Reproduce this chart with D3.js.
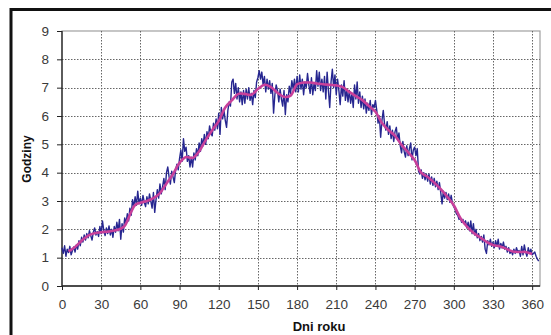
<!DOCTYPE html>
<html>
<head>
<meta charset="utf-8">
<script src="https://cdn.jsdelivr.net/npm/d3@7"></script>
<style>
  html, body { margin: 0; padding: 0; background: #fff; }
  svg { display: block; font-family: "Liberation Sans", Arial, sans-serif; }
</style>
</head>
<body>
<svg id="chart" width="551" height="335"></svg>
<script>
// Daily sunshine duration (hours), day of year 0..365
const dailyHours = [
  1.35, 1.15, 1.42, 1.05, 1.30, 1.18, 1.40, 1.10, 1.25, 1.38,
  1.20, 1.45, 1.30, 1.60, 1.42, 1.72, 1.55, 1.80, 1.62, 1.85,
  1.70, 1.95, 1.78, 1.62, 1.90, 2.05, 1.80, 1.92, 1.75, 2.10,
  1.85, 2.30, 1.95, 1.78, 2.05, 1.85, 2.12, 1.80, 2.00, 1.72,
  2.10, 1.90, 2.25, 1.95, 2.35, 1.65, 2.20, 1.90, 2.40, 2.20,
  2.55, 2.30, 2.75, 2.50, 3.05, 2.80, 3.15, 2.85, 3.35, 2.90,
  3.10, 2.85, 3.20, 2.95, 2.80, 3.15, 2.90, 3.25, 3.00, 2.75,
  3.30, 2.60, 3.05, 3.40, 3.10, 3.60, 3.25, 3.50, 3.80, 3.40,
  4.00, 4.20, 3.85, 3.60, 4.05, 3.85, 3.65, 4.10, 4.30, 4.10,
  4.50, 4.80, 4.40, 5.20, 4.75, 4.90, 4.40, 4.60, 4.20, 4.55,
  4.20, 4.70, 4.45, 4.85, 4.60, 5.05, 4.75, 5.20, 4.95, 5.35,
  5.00, 5.45, 5.20, 5.65, 5.40, 5.30, 5.75, 5.50, 5.90, 5.55,
  6.10, 5.35, 6.30, 5.90, 6.20, 5.85, 5.60, 6.20, 6.50, 6.35,
  7.20, 7.30, 6.80, 7.15, 6.60, 7.00, 6.50, 6.85, 6.40, 6.90,
  6.45, 6.95, 6.60, 7.00, 6.55, 6.80, 6.40, 6.90, 6.65, 7.20,
  7.35, 7.60, 7.30, 7.55, 7.10, 7.40, 6.85, 7.30, 6.95, 7.25,
  6.80, 7.15, 6.10, 6.75, 7.10, 6.90, 6.50, 6.95, 6.60, 6.35,
  6.90, 6.05, 6.75, 6.50, 7.05, 6.80, 7.25, 6.95, 7.30, 6.85,
  7.40, 6.85, 7.45, 6.95, 7.30, 6.75, 7.20, 7.00, 7.50, 7.10,
  6.80, 7.35, 6.75, 7.15, 6.90, 7.60, 7.05, 7.55, 6.90, 7.30,
  6.85, 7.40, 6.60, 7.55, 6.90, 6.30, 7.20, 7.65, 7.00, 7.45,
  6.75, 7.30, 6.90, 6.40, 7.10, 6.70, 7.25, 6.55, 6.95, 6.50,
  6.90, 6.45, 6.80, 6.30, 7.10, 6.60, 7.20, 6.45, 6.85, 6.30,
  6.70, 6.25, 6.60, 6.10, 6.45, 6.20, 6.55, 6.05, 6.40, 6.30,
  6.55, 6.20, 5.75, 6.00, 5.25, 5.85, 6.20, 5.70, 5.50, 5.80,
  5.35, 5.65, 5.20, 5.50, 5.10, 5.45, 5.60, 5.15, 5.40, 4.95,
  4.70, 5.10, 4.75, 4.55, 4.95, 4.60, 4.85, 5.05, 4.45, 4.80,
  4.90, 4.60, 4.85, 4.05, 3.95, 4.10, 3.80, 4.00, 3.75, 3.95,
  3.70, 3.95, 3.60, 3.85, 3.55, 3.80, 3.50, 3.70, 3.40, 3.65,
  3.30, 2.90, 3.35, 3.10, 3.30, 3.05, 3.25, 2.95, 3.20, 2.90,
  2.80, 2.70, 2.55, 2.50, 2.35, 2.40, 2.25, 2.35, 2.20, 2.30,
  2.05, 2.25, 1.95, 2.30, 1.85, 2.20, 1.80, 2.00, 1.70, 1.85,
  1.60, 1.75, 1.55, 1.80, 1.30, 1.15, 1.60, 1.45, 1.65, 1.40,
  1.55, 1.35, 1.60, 1.40, 1.65, 1.30, 1.50, 1.35, 1.55, 1.30,
  1.40, 1.20, 1.35, 1.15, 1.25, 1.10, 1.30, 1.15, 1.35, 1.20,
  1.25, 1.05, 1.40, 1.10, 1.45, 1.20, 1.05, 1.35, 1.15, 1.30,
  1.10, 1.15, 1.20, 1.05, 0.95, 0.88
];

// Smoothed trend: days and hours
const trendDays = [
  5, 10, 15, 20, 25, 30, 35, 40, 45, 48, 50, 53, 56, 60, 65, 70, 75, 80, 85, 90,
  95, 100, 105, 110, 115, 120, 125, 130, 135, 140, 145, 150, 155, 160, 165, 170,
  175, 180, 185, 190, 195, 200, 205, 210, 215, 220, 225, 230, 235, 240, 245, 250,
  255, 260, 265, 270, 275, 280, 285, 290, 295, 300, 305, 310, 315, 320, 325, 330,
  335, 340, 345, 350, 355, 360
];
const trendHours = [
  1.22, 1.38, 1.60, 1.78, 1.86, 1.90, 1.92, 1.96, 2.02, 2.12, 2.30, 2.62, 2.86, 2.94, 3.00, 3.10, 3.28, 3.62, 3.95, 4.35,
  4.55, 4.52, 4.75, 5.15, 5.50, 5.82, 6.30, 6.55, 6.78, 6.78, 6.75, 6.95, 7.10, 7.02, 6.82, 6.68,
  6.72, 7.12, 7.18, 7.18, 7.15, 7.12, 7.10, 7.08, 7.02, 6.85, 6.70, 6.56, 6.35, 6.15, 5.75, 5.50,
  5.30, 4.98, 4.72, 4.45, 4.00, 3.85, 3.65, 3.42, 3.15, 2.85, 2.40, 2.10, 1.88, 1.72, 1.56, 1.45,
  1.40, 1.32, 1.22, 1.20, 1.20, 1.13
];

const xTicks = [0, 30, 60, 90, 120, 150, 180, 210, 240, 270, 300, 330, 360];
const yTicks = [0, 1, 2, 3, 4, 5, 6, 7, 8, 9];

const svg = d3.select("#chart");

const plot = { left: 62, top: 31, right: 540, bottom: 286 };

const x = d3.scaleLinear().domain([0, 366]).range([plot.left, plot.right]);
const y = d3.scaleLinear().domain([0, 9]).range([plot.bottom, plot.top]);

// Outer frame
svg.append("rect")
  .attr("x", 11).attr("y", 9.5)
  .attr("width", 600).attr("height", 400)
  .attr("fill", "none")
  .attr("stroke", "#111")
  .attr("stroke-width", 3);

// Plot area border (top/right in grey)
svg.append("rect")
  .attr("x", plot.left).attr("y", plot.top)
  .attr("width", plot.right - plot.left).attr("height", plot.bottom - plot.top)
  .attr("fill", "#fff")
  .attr("stroke", "#a0a0a0")
  .attr("stroke-width", 1.2);

// Grid lines
const grid = svg.append("g").attr("stroke", "#666").attr("stroke-width", 1)
  .attr("stroke-dasharray", "1.5,1.5");
grid.selectAll("line.h").data(yTicks.filter(d => d > 0 && d < 9)).join("line")
  .attr("class", "h")
  .attr("x1", plot.left).attr("x2", plot.right)
  .attr("y1", d => Math.round(y(d)) + 0.5).attr("y2", d => Math.round(y(d)) + 0.5);
grid.selectAll("line.v").data(xTicks.filter(d => d > 0)).join("line")
  .attr("class", "v")
  .attr("y1", plot.top).attr("y2", plot.bottom)
  .attr("x1", d => Math.round(x(d)) + 0.5).attr("x2", d => Math.round(x(d)) + 0.5);

// Axes
const yAxis = d3.axisLeft(y).tickValues(yTicks).tickSize(5).tickPadding(8).tickFormat(d3.format("d"));
const xAxis = d3.axisBottom(x).tickValues(xTicks).tickSize(4).tickPadding(9).tickFormat(d3.format("d"));

const gy = svg.append("g").attr("transform", `translate(${plot.left},0)`).call(yAxis);
const gx = svg.append("g").attr("transform", `translate(0,${plot.bottom})`).call(xAxis);

[gx, gy].forEach(g => {
  g.select(".domain").attr("stroke", "#222").attr("stroke-width", 1.3);
  g.selectAll(".tick line").attr("stroke", "#222");
  g.selectAll(".tick text")
    .attr("fill", "#3a3a3a")
    .style("font-size", "13.5px")
    .style("font-family", "'Liberation Sans', Arial, sans-serif");
});
// keep the axis lines within the plot area
gx.select(".domain").attr("d", `M${plot.left},0H${plot.right}`);
gy.select(".domain").attr("d", `M0,${plot.bottom}V${plot.top}`);

// Daily series
const dailyLine = d3.line()
  .x((d, i) => x(i))
  .y(d => y(d));

svg.append("path")
  .datum(dailyHours)
  .attr("d", dailyLine)
  .attr("fill", "none")
  .attr("stroke", "#262690")
  .attr("stroke-width", 1.4)
  .attr("stroke-linejoin", "round");

// Smoothed trend
const trendLine = d3.line()
  .x(d => x(d[0]))
  .y(d => y(d[1]))
  .curve(d3.curveCatmullRom.alpha(0.5));

svg.append("path")
  .datum(trendDays.map((d, i) => [d, trendHours[i]]))
  .attr("d", trendLine)
  .attr("fill", "none")
  .attr("stroke", "#c8409a")
  .attr("stroke-width", 2.6)
  .attr("stroke-linejoin", "round");

// Axis titles
svg.append("text")
  .attr("x", 319).attr("y", 331)
  .attr("text-anchor", "middle")
  .style("font-size", "13px")
  .style("font-weight", "bold")
  .attr("fill", "#111")
  .text("Dni roku");

svg.append("text")
  .attr("transform", "translate(31,159) rotate(-90)")
  .attr("text-anchor", "middle")
  .style("font-size", "12px")
  .style("font-weight", "bold")
  .attr("fill", "#111")
  .text("Godziny");
</script>
</body>
</html>
